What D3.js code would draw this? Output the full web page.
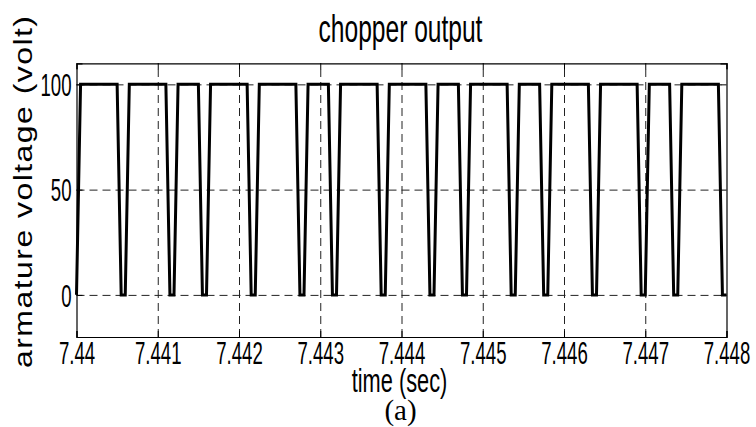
<!DOCTYPE html>
<html>
<head>
<meta charset="utf-8">
<script src="https://cdn.jsdelivr.net/npm/d3@7"></script>
<style>
    body { margin: 0; background: #fff; }
    text { font-family: "Liberation Sans", Arial, sans-serif; fill: #000; }
</style>
</head>
<body>
<div id="chart"></div>
<script>

// chopper output samples (time in sec, armature voltage in volt)
let time = [7.44, 7.44005,
    7.4405, 7.44055, 7.4406, 7.44065,
    7.4411, 7.44115, 7.4412, 7.44125,
    7.4415, 7.44155, 7.4416, 7.44165,
    7.4421, 7.44215, 7.4422, 7.44225,
    7.4427, 7.44275, 7.4428, 7.44285,
    7.4431, 7.44315, 7.4432, 7.44325,
    7.4437, 7.44375, 7.4438, 7.44385,
    7.4443, 7.44435, 7.4444, 7.44445,
    7.4447, 7.44475, 7.4448, 7.44485,
    7.4453, 7.44535, 7.4454, 7.44545,
    7.4457, 7.44575, 7.4458, 7.44585,
    7.4463, 7.44635, 7.4464, 7.44645,
    7.4469, 7.44695, 7.447, 7.44705,
    7.4473, 7.44735, 7.4474, 7.44745,
    7.4479, 7.44795, 7.448];

let volt = [0, 100,
    100, 0, 0, 100,
    100, 0, 0, 100,
    100, 0, 0, 100,
    100, 0, 0, 100,
    100, 0, 0, 100,
    100, 0, 0, 100,
    100, 0, 0, 100,
    100, 0, 0, 100,
    100, 0, 0, 100,
    100, 0, 0, 100,
    100, 0, 0, 100,
    100, 0, 0, 100,
    100, 0, 0, 100,
    100, 0, 0, 100,
    100, 0, 0];

let xTicks = [7.44, 7.441, 7.442, 7.443, 7.444, 7.445, 7.446, 7.447, 7.448];
let xTickLabels = ["7.44", "7.441", "7.442", "7.443", "7.444", "7.445", "7.446", "7.447", "7.448"];
let yTicks = [0, 50, 100];

let data = time.map((t, i) => ({t: t, v: volt[i]}));

let margin = {top: 63.3, right: 29.5, bottom: 90, left: 76.5};
let width = 756 - margin.left - margin.right;
let height = 427 - margin.top - margin.bottom;
let squeeze = 0.6; // the original fonts look condensed

let svg = d3.select("#chart").append("svg")
    .attr("width", 756)
    .attr("height", 427);

let g = svg.append("g")
    .attr("transform", `translate(${margin.left}, ${margin.top})`);

let x = d3.scaleLinear().domain([7.44, 7.448]).range([0, width]);
let y = d3.scaleLinear().domain([-20, 110]).range([height, 0]);

// dashed grid
g.append("g")
    .attr("class", "grid")
    .attr("transform", `translate(0, ${height})`)
    .call(d3.axisBottom(x).tickValues(xTicks.slice(1, -1)).tickSize(-height).tickFormat(""));
g.append("g")
    .attr("class", "grid")
    .call(d3.axisLeft(y).tickValues(yTicks).tickSize(-width).tickFormat(""));
g.selectAll(".grid .domain").remove();
g.selectAll(".grid line")
    .attr("stroke", "#222")
    .attr("stroke-width", 1)
    .attr("stroke-dasharray", "8,5");

// signal
let line = d3.line()
    .x(d => x(d.t))
    .y(d => y(d.v));

g.append("path")
    .datum(data)
    .attr("fill", "none")
    .attr("stroke", "#000")
    .attr("stroke-width", 3)
    .attr("stroke-linejoin", "miter")
    .attr("d", line);

// axes, ticks pointing inward
let xAxis = g.append("g")
    .attr("transform", `translate(0, ${height})`)
    .call(d3.axisBottom(x).tickValues(xTicks).tickSize(-6).tickFormat((d, i) => xTickLabels[i]));
xAxis.selectAll("text")
    .attr("y", 27)
    .attr("dy", 0)
    .attr("font-size", 31)
    .attr("transform", `scale(${squeeze},1)`);

let yAxis = g.append("g")
    .call(d3.axisLeft(y).tickValues(yTicks).tickSize(-6));
yAxis.selectAll("text")
    .attr("x", -5 / squeeze)
    .attr("dy", "0.36em")
    .attr("font-size", 31)
    .attr("transform", `scale(${squeeze},1)`);

g.append("g").call(d3.axisTop(x).tickValues(xTicks).tickSize(-6).tickFormat(""));
g.append("g")
    .attr("transform", `translate(${width}, 0)`)
    .call(d3.axisRight(y).tickValues(yTicks).tickSize(-6).tickFormat(""));

g.selectAll(".domain").attr("stroke", "#000").attr("stroke-width", 1.2);

// titles
svg.append("g")
    .attr("transform", `translate(${margin.left + width / 2 - 1}, 42) scale(0.63,1)`)
    .append("text")
    .attr("text-anchor", "middle")
    .attr("font-size", 39)
    .text("chopper output");

svg.append("g")
    .attr("transform", `translate(${margin.left + width / 2 - 2}, 392) scale(0.66,1)`)
    .append("text")
    .attr("text-anchor", "middle")
    .attr("font-size", 33)
    .text("time (sec)");

svg.append("text")
    .attr("x", margin.left + width / 2 - 1)
    .attr("y", 420)
    .attr("text-anchor", "middle")
    .attr("font-size", 29)
    .style("font-family", "'Liberation Serif', 'Times New Roman', serif")
    .text("(a)");

svg.append("g")
    .attr("transform", "translate(32, 192) rotate(-90) scale(1,0.78)")
    .append("text")
    .attr("text-anchor", "middle")
    .attr("font-size", 32)
    .attr("textLength", 352)
    .attr("lengthAdjust", "spacing")
    .text("armature voltage (volt)");

</script>
</body>
</html>
